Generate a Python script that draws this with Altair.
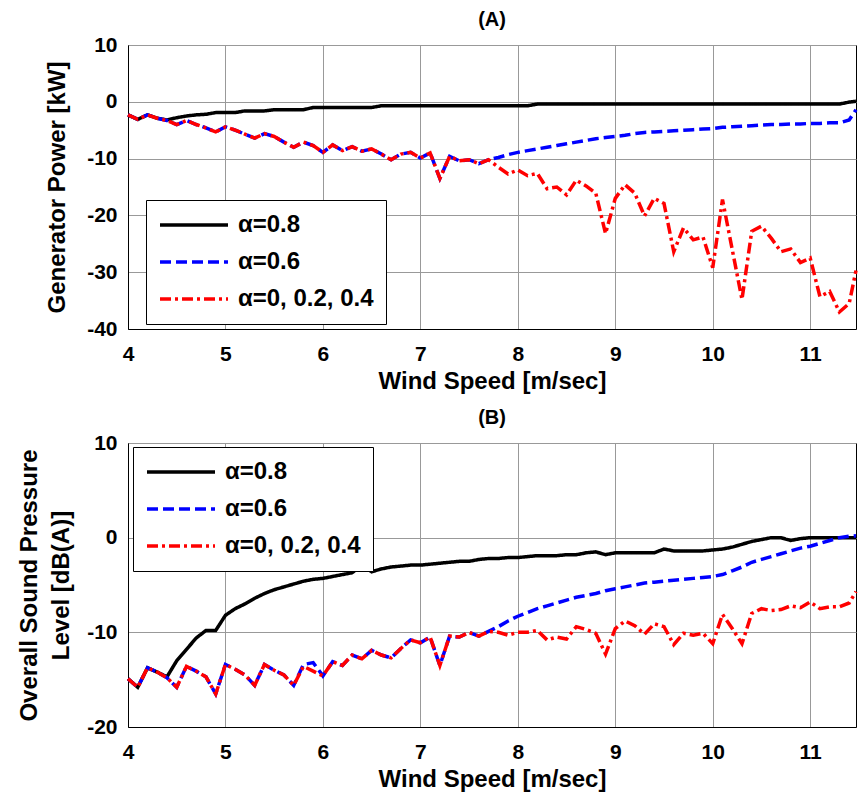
import altair as alt
import pandas as pd

FONT = "Liberation Sans"

wind = [4.0, 4.1, 4.2, 4.3, 4.4, 4.5, 4.6, 4.7, 4.8, 4.9,
        5.0, 5.1, 5.2, 5.3, 5.4, 5.5, 5.6, 5.7, 5.8, 5.9,
        6.0, 6.1, 6.2, 6.3, 6.4, 6.5, 6.6, 6.7, 6.8, 6.9,
        7.0, 7.1, 7.2, 7.3, 7.4, 7.5, 7.6, 7.7, 7.8, 7.9,
        8.0, 8.1, 8.2, 8.3, 8.4, 8.5, 8.6, 8.7, 8.8, 8.9,
        9.0, 9.1, 9.2, 9.3, 9.4, 9.5, 9.6, 9.7, 9.8, 9.9,
        10.0, 10.1, 10.2, 10.3, 10.4, 10.5, 10.6, 10.7, 10.8, 10.9,
        11.0, 11.1, 11.2, 11.3, 11.4, 11.47]

# Panel A: generator power [kW]
power_a08 = [-2.3, -3.1, -2.3, -2.9, -3.2, -2.8, -2.5, -2.3, -2.2, -1.9,
             -1.9, -1.9, -1.6, -1.6, -1.6, -1.4, -1.4, -1.4, -1.4, -1.0,
             -1.0, -1.0, -1.0, -1.0, -1.0, -1.0, -0.7, -0.7, -0.7, -0.7,
             -0.7, -0.7, -0.7, -0.7, -0.7, -0.7, -0.7, -0.7, -0.7, -0.7,
             -0.7, -0.7, -0.4, -0.4, -0.4, -0.4, -0.4, -0.4, -0.4, -0.4,
             -0.4, -0.4, -0.4, -0.4, -0.4, -0.4, -0.4, -0.4, -0.4, -0.4,
             -0.4, -0.4, -0.4, -0.4, -0.4, -0.4, -0.4, -0.4, -0.4, -0.4,
             -0.4, -0.4, -0.4, -0.4, -0.05, 0.1]
power_a06 = [-2.3, -3.1, -2.3, -2.9, -3.3, -4.0, -3.3, -4.0, -4.6, -5.3,
             -4.4, -5.0, -5.7, -6.4, -5.6, -6.1, -7.1, -8.0, -7.1, -7.7,
             -8.9, -7.6, -8.6, -7.9, -8.7, -8.3, -9.2, -10.2, -9.2, -8.9,
             -9.9, -9.0, -13.5, -9.6, -10.4, -10.2, -10.9, -10.2, -9.8, -9.3,
             -8.9, -8.6, -8.3, -8.0, -7.7, -7.4, -7.1, -6.8, -6.5, -6.3,
             -6.1, -5.9, -5.6, -5.4, -5.3, -5.2, -5.1, -5.0, -4.9, -4.8,
             -4.7, -4.5, -4.4, -4.3, -4.2, -4.1, -4.0, -4.0, -3.9, -3.9,
             -3.8, -3.8, -3.7, -3.7, -3.2, -1.4]
power_a0 = [-2.3, -3.1, -2.3, -2.9, -3.3, -4.0, -3.3, -4.0, -4.6, -5.3,
            -4.4, -5.0, -5.7, -6.4, -5.6, -6.1, -7.1, -8.0, -7.1, -7.7,
            -8.9, -7.6, -8.6, -7.9, -8.7, -8.3, -9.2, -10.2, -9.2, -8.9,
            -9.9, -9.0, -13.5, -9.6, -10.4, -10.2, -10.9, -10.2, -11.5, -12.7,
            -12.0, -13.0, -12.6, -15.3, -15.0, -16.4, -13.8, -14.8, -16.1, -23.2,
            -17.0, -14.6, -16.1, -20.1, -17.0, -17.9, -26.4, -22.2, -24.3, -23.8,
            -29.2, -17.2, -26.0, -34.8, -22.8, -21.9, -24.0, -26.4, -25.9, -28.3,
            -27.5, -34.3, -33.4, -37.0, -35.5, -29.7]

# Panel B: overall sound pressure level [dB(A)]
spl_a08 = [-14.9, -15.8, -13.75, -14.2, -14.7, -13.0, -11.8, -10.6, -9.8, -9.8,
           -8.2, -7.5, -7.0, -6.4, -5.9, -5.5, -5.2, -4.9, -4.6, -4.4,
           -4.3, -4.1, -3.9, -3.7, -2.9, -3.6, -3.3, -3.1, -3.0, -2.9,
           -2.9, -2.8, -2.7, -2.6, -2.5, -2.5, -2.3, -2.2, -2.2, -2.1,
           -2.1, -2.0, -1.9, -1.9, -1.9, -1.8, -1.8, -1.6, -1.5, -1.8,
           -1.6, -1.6, -1.6, -1.6, -1.6, -1.2, -1.4, -1.4, -1.4, -1.4,
           -1.3, -1.2, -1.0, -0.7, -0.4, -0.2, 0.0, 0.0, -0.3, -0.1,
           0.0, 0.0, 0.0, 0.0, 0.0, 0.0]
spl_a06 = [-14.9, -15.8, -13.75, -14.2, -14.8, -15.8, -13.6, -14.1, -14.7, -16.5,
           -13.4, -13.9, -14.5, -15.6, -13.4, -14.0, -14.5, -15.6, -13.4, -13.2,
           -14.6, -13.1, -13.5, -12.4, -12.8, -11.9, -12.4, -12.7, -11.7, -10.8,
           -11.1, -10.5, -13.5, -10.4, -10.5, -10.0, -10.4, -9.9, -9.4, -8.8,
           -8.3, -7.9, -7.5, -7.2, -6.9, -6.6, -6.3, -6.1, -5.9, -5.6,
           -5.4, -5.2, -5.0, -4.8, -4.7, -4.6, -4.5, -4.4, -4.3, -4.2,
           -4.1, -3.9, -3.5, -3.1, -2.6, -2.3, -2.0, -1.7, -1.4, -1.1,
           -0.9, -0.6, -0.3, 0.0, 0.15, 0.2]
spl_a0 = [-14.9, -15.8, -13.75, -14.2, -14.8, -15.8, -13.6, -14.1, -14.7, -16.5,
          -13.4, -13.9, -14.5, -15.6, -13.4, -14.0, -14.5, -15.6, -13.6, -14.1,
          -14.6, -13.1, -13.5, -12.4, -12.8, -11.9, -12.4, -12.7, -11.7, -10.8,
          -11.1, -10.5, -13.5, -10.4, -10.5, -10.0, -10.4, -9.9, -10.0, -10.3,
          -10.0, -10.0, -9.8, -10.8, -10.5, -10.7, -9.4, -9.7, -10.1, -12.3,
          -9.6, -8.8, -9.3, -10.2, -9.1, -9.4, -11.3, -10.1, -10.3, -10.1,
          -11.2, -8.1, -9.6, -11.2, -8.0, -7.5, -7.7, -7.6, -7.2, -7.4,
          -6.8, -7.5, -7.3, -7.3, -6.9, -5.7]

series_names = ["α=0.8", "α=0.6", "α=0, 0.2, 0.4"]
series_colors = ["#000000", "#0000ff", "#ff0000"]
series_dashes = [[1, 0], [11, 5], [11, 4, 3, 4]]
x_ticks = [4, 5, 6, 7, 8, 9, 10, 11]


def make_df(curves):
    rows = []
    for name, vals in zip(series_names, curves):
        for w, v in zip(wind, vals):
            rows.append({"wind": w, "value": v, "series": name})
    return pd.DataFrame(rows)


def panel(curves, title, ytitle, ydomain, yticks, height, leg_x, leg_y, ytitle_pad):
    df = make_df(curves)
    legend = alt.Legend(
        orient="none", legendX=leg_x, legendY=leg_y, title=None,
        symbolType="stroke", symbolSize=4624, symbolStrokeWidth=3.5,
        labelFont=FONT, labelFontSize=24, labelFontWeight="bold",
        labelColor="black", labelOffset=8, clipHeight=26, rowPadding=11,
        padding=12, strokeColor="black", fillColor="white", cornerRadius=0,
    )
    base = alt.Chart(df).encode(
        x=alt.X("wind:Q", scale=alt.Scale(domain=[4, 11.47], nice=False, zero=False),
                axis=alt.Axis(values=x_ticks, title="Wind Speed [m/sec]", labelFlush=False,
                              labelExpr="toString(datum.value)")),
        y=alt.Y("value:Q", scale=alt.Scale(domain=ydomain, nice=False, zero=False),
                axis=alt.Axis(values=yticks, title=ytitle, titlePadding=ytitle_pad,
                              labelExpr="toString(datum.value)")),
        color=alt.Color("series:N", scale=alt.Scale(domain=series_names, range=series_colors),
                        legend=legend),
        strokeDash=alt.StrokeDash("series:N", scale=alt.Scale(domain=series_names, range=series_dashes),
                                  legend=legend),
    )
    layers = [base.transform_filter(alt.datum.series == n).mark_line(strokeWidth=3.5)
              for n in series_names]
    return alt.layer(*layers).properties(
        width=728, height=height,
        title=alt.Title(title, font=FONT, fontSize=20, fontWeight="bold",
                        color="black", offset=4, anchor="middle"),
    )


chart_a = panel([power_a08, power_a06, power_a0], "(A)", "Generator Power [kW]",
                [-40, 10], [-40, -30, -20, -10, 0, 10], 284, 18, 155, 17)
chart_b = panel([spl_a08, spl_a06, spl_a0], "(B)",
                ["Overall Sound Pressure", "Level [dB(A)]"],
                [-20, 10], [-20, -10, 0, 10], 284, 5, 4, 13)

chart = alt.vconcat(chart_a, chart_b, spacing=13).resolve_scale(
    color="independent", strokeDash="independent"
).resolve_legend(color="independent", strokeDash="independent").properties(
    padding={"left": 17, "top": 9, "right": 0, "bottom": 0},
    background="white",
).configure_view(stroke="black", strokeWidth=1, fill="white").configure_axis(
    labelFont=FONT, labelFontSize=21, labelFontWeight="bold", labelColor="black",
    titleFont=FONT, titleFontSize=24, titleFontWeight="bold", titleColor="black",
    grid=True, gridColor="#999999", gridWidth=1, gridOpacity=1,
    domainColor="black", domainWidth=1, ticks=False,
).configure_axisX(labelPadding=14, titlePadding=5, titleFontSize=24) \
 .configure_axisY(labelPadding=11, titleLineHeight=32, titleFontSize=24)

chart.save("out.html", embed_options={"renderer": "svg", "actions": False})
